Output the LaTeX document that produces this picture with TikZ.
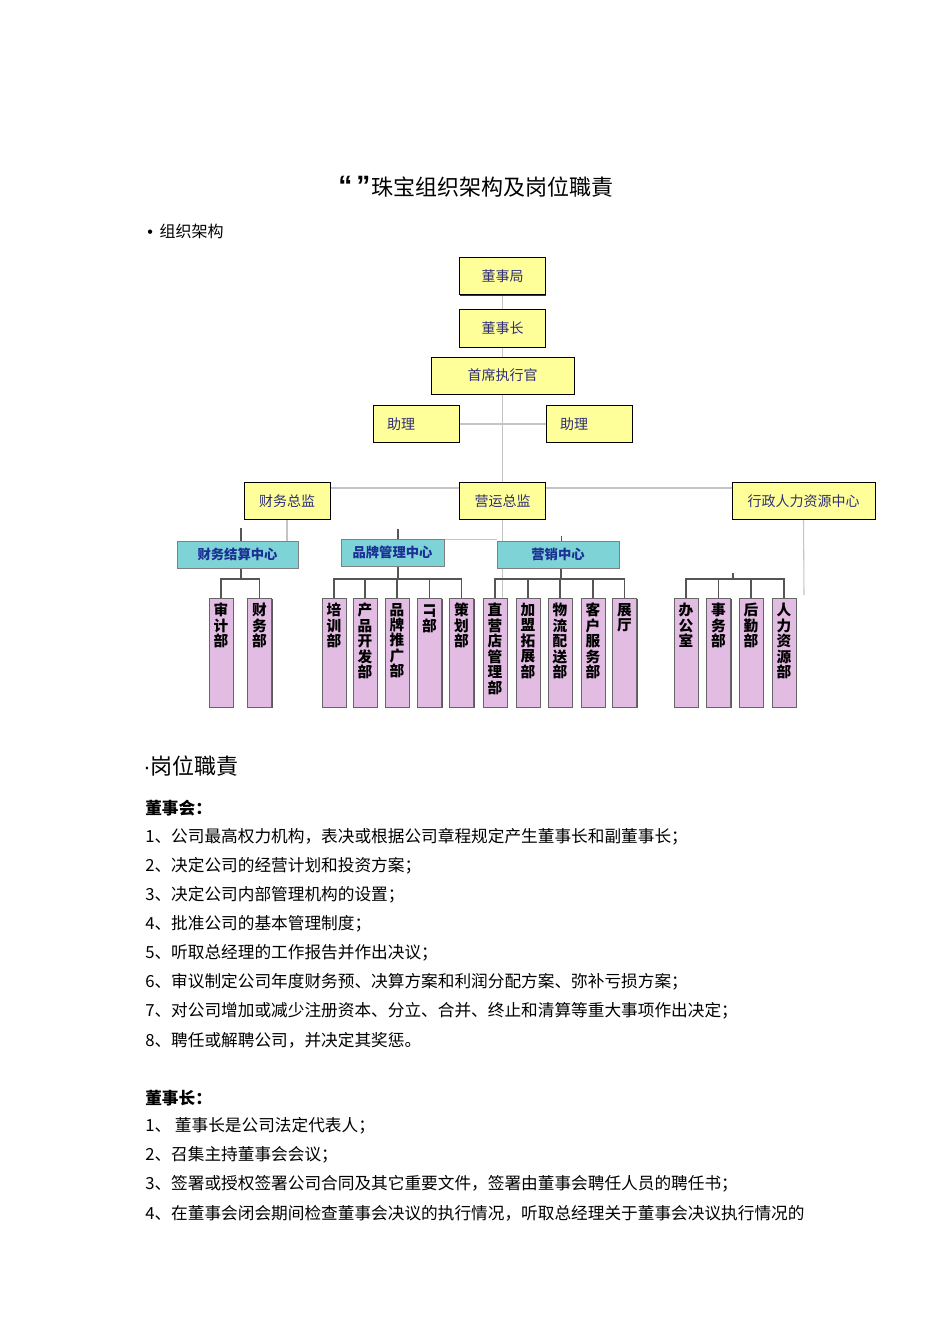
\documentclass[tikz,border=0pt]{standalone}
\usepackage{fontspec}
\setmainfont{Noto Sans CJK SC}
\newfontfamily\latinfont{Liberation Sans}
\usepackage{tikz}
\usetikzlibrary{positioning, backgrounds, shadows}

\definecolor{boxyellow}{HTML}{FFFF99}
\definecolor{boxcyan}{HTML}{7DD3D6}
\definecolor{boxpurple}{HTML}{E2BCE2}
\definecolor{headtext}{HTML}{2E2E7A}
\definecolor{centertext}{HTML}{1B2F94}
\definecolor{linegray}{HTML}{C4C4C4}
\definecolor{linedark}{HTML}{555555}

% vertical column of characters, set from the top of a department box
\newcommand{\vcol}[1]{\parbox[t][74.75pt][t]{18pt}{\centering #1}}

\begin{document}
\begin{tikzpicture}[
    x=0.75pt, y=-0.75pt,
    headbox/.style={
        draw=black,
        line width=0.75pt,
        fill=boxyellow,
        text=headtext,
        font=\fontsize{10.5}{12}\selectfont,
        minimum width=64.5pt,
        minimum height=27.75pt,
        inner sep=0pt,
        drop shadow={shadow xshift=0.7pt, shadow yshift=-0.7pt, opacity=0.8, fill=black}
    },
    widebox/.style={headbox, minimum width=107.25pt},
    aidebox/.style={headbox, text width=43.5pt, inner xsep=10.5pt, align=left},
    centerbox/.style={
        draw=black!50,
        line width=0.6pt,
        fill=boxcyan,
        text=centertext,
        font=\fontsize{10}{12}\selectfont\bfseries,
        minimum height=20.25pt,
        inner sep=0pt,
        drop shadow={shadow xshift=0.8pt, shadow yshift=-0.8pt, opacity=0.8, fill=black!80}
    },
    deptbox/.style={
        draw=black!60,
        line width=0.6pt,
        fill=boxpurple,
        anchor=north,
        minimum width=18pt,
        minimum height=81.75pt,
        inner xsep=0pt,
        inner ysep=3.5pt,
        font=\fontsize{11}{11.6}\selectfont\bfseries,
        drop shadow={shadow xshift=0.8pt, shadow yshift=-0.6pt, opacity=0.8, fill=black!80}
    },
    greyline/.style={draw=linegray, line width=0.8pt},
    busline/.style={draw=linedark, line width=1pt},
    bodytext/.style={anchor=west, inner sep=0pt, font=\fontsize{12.5}{14}\selectfont}
]

\begin{scope}[on background layer]
\fill[white] (0,0) rectangle (950,1344);
\end{scope}
\useasboundingbox (0,0) rectangle (950,1344);

% headings
\node[font=\fontsize{16.5}{20}\selectfont] (title) at (476,187)
{{\latinfont\bfseries\fontsize{21}{21}\selectfont “\hspace{3pt}”}\hspace{1pt}珠宝组织架构及岗位職責};
\node[bodytext, font=\fontsize{12}{14}\selectfont] (orghead) at (147,231)
{{\latinfont •}\hspace{5pt}组织架构};

% top of the chart
\node[headbox] (board) at (502.5,276.5) {董事局};
\node[headbox, below=10.5pt of board] (chair) {董事长};
\node[widebox, below=6.75pt of chair] (ceo) {首席执行官};
\node[aidebox] (aideL) at (416,424) {助理};
\node[aidebox] (aideR) at (589,424) {助理};

\node[headbox] (cfo) at (287,501) {财务总监};
\node[headbox] (ops) at (502.5,501) {营运总监};
\node[widebox] (hr) at (803.5,501) {行政人力资源中心};

% centres
\node[centerbox, minimum width=90.75pt] (settle) at (237.5,554.5) {财务结算中心};
\node[centerbox, minimum width=77.25pt] (brand) at (392.5,552.5) {品牌管理中心};
\node[centerbox, minimum width=91.5pt] (mkt) at (558,554.5) {营销中心};

% departments
\node[deptbox] (audit) at (221,598) {\vcol{审\\计\\部}};
\node[deptbox] (acct) at (259.5,598) {\vcol{财\\务\\部}};

\node[deptbox] (train) at (334,598) {\vcol{培\\训\\部}};
\node[deptbox] (prod) at (365,598) {\vcol{产\\品\\开\\发\\部}};
\node[deptbox] (promo) at (397,598) {\vcol{品\\牌\\推\\广\\部}};
\node[deptbox] (itdept) at (429.5,598) {\vcol{\rotatebox[origin=c]{-90}{IT}\\部}};
\node[deptbox] (plan) at (461.5,598) {\vcol{策\\划\\部}};

\node[deptbox] (store) at (495,598) {\vcol{直\\营\\店\\管\\理\\部}};
\node[deptbox] (franch) at (528,598) {\vcol{加\\盟\\拓\\展\\部}};
\node[deptbox] (logis) at (560,598) {\vcol{物\\流\\配\\送\\部}};
\node[deptbox] (cust) at (593,598) {\vcol{客\\户\\服\\务\\部}};
\node[deptbox] (hall) at (624.5,598) {\vcol{展\\厅}};

\node[deptbox] (office) at (686,598) {\vcol{办\\公\\室}};
\node[deptbox] (affairs) at (718.5,598) {\vcol{事\\务\\部}};
\node[deptbox] (backup) at (751,598) {\vcol{后\\勤\\部}};
\node[deptbox] (staff) at (784,598) {\vcol{人\\力\\资\\源\\部}};

% connectors, behind the boxes
\begin{scope}[on background layer]
\draw[greyline] (board.south) -- (ops.north);
\draw[greyline] (aideL.east) -- (aideR.west);
\draw[greyline] ([yshift=-4.5pt]cfo.north east) -- ([yshift=-4.5pt]hr.north west);
\draw[greyline] (cfo.south) -- (cfo.south |- settle.north);
\draw[greyline] (ops.south) -- (ops.south |- store.north);
\draw[greyline] ([yshift=-0.75pt]brand.north east) -- ([yshift=-0.75pt]brand.north east -| mkt.west);
\coordinate (hrend) at (804,595);
\draw[greyline] (hr.south) -- (hrend);

\draw[busline] ([xshift=2.6pt]settle.north) -- ++(0,-13);
\draw[busline] ([xshift=4.1pt]brand.north) -- ++(0,-10);
\draw[busline] ([xshift=2.6pt]mkt.north) -- ++(0,-5);

\coordinate (finbus) at (241,579);
\draw[busline] (finbus |- settle.south) -- (finbus);
\draw[busline] (audit.north) |- (finbus) -| (acct.north);

\coordinate (brandbus) at (398,579);
\draw[busline] (brandbus |- brand.south) -- (brandbus);
\draw[busline] (train.north) |- (brandbus) -| (plan.north);
\foreach \d in {prod, promo, itdept}
    \draw[busline] (\d.north) -- (\d.north |- brandbus);

\coordinate (mktbus) at (561,579);
\draw[busline] (mktbus |- mkt.south) -- (mktbus);
\draw[busline] (store.north) |- (mktbus) -| (hall.north);
\foreach \d in {franch, logis, cust}
    \draw[busline] (\d.north) -- (\d.north |- mktbus);

\coordinate (adminbus) at (733,579);
\draw[busline] (adminbus) -- ++(0,-6);
\draw[busline] (office.north) |- (adminbus) -| (staff.north);
\foreach \d in {affairs, backup}
    \draw[busline] (\d.north) -- (\d.north |- adminbus);
\end{scope}

% duties
\node[bodytext, font=\fontsize{16.5}{20}\selectfont] (dutyhead) at (143,766)
{{\latinfont ·}岗位職責};

\node[bodytext, font=\fontsize{12.5}{14}\selectfont\bfseries] (boardhead) at (145,808) {董事会：};
\node[bodytext] (b1) at (145,837) {1、公司最高权力机构，表决或根据公司章程规定产生董事长和副董事长；};
\node[bodytext] (b2) at (145,866) {2、决定公司的经营计划和投资方案；};
\node[bodytext] (b3) at (145,895) {3、决定公司内部管理机构的设置；};
\node[bodytext] (b4) at (145,924) {4、批准公司的基本管理制度；};
\node[bodytext] (b5) at (145,953) {5、听取总经理的工作报告并作出决议；};
\node[bodytext] (b6) at (145,982) {6、审议制定公司年度财务预、决算方案和利润分配方案、弥补亏损方案；};
\node[bodytext] (b7) at (145,1011) {7、对公司增加或减少注册资本、分立、合并、终止和清算等重大事项作出决定；};
\node[bodytext] (b8) at (145,1040) {8、聘任或解聘公司，并决定其奖惩。};

\node[bodytext, font=\fontsize{12.5}{14}\selectfont\bfseries] (chairhead) at (145,1098) {董事长：};
\node[bodytext] (c1) at (145,1126) {1、 董事长是公司法定代表人；};
\node[bodytext] (c2) at (145,1155) {2、召集主持董事会会议；};
\node[bodytext] (c3) at (145,1184) {3、签署或授权签署公司合同及其它重要文件，签署由董事会聘任人员的聘任书；};
\node[bodytext] (c4) at (145,1213) {4、在董事会闭会期间检查董事会决议的执行情况，听取总经理关于董事会决议执行情况的};

\end{tikzpicture}
\end{document}
